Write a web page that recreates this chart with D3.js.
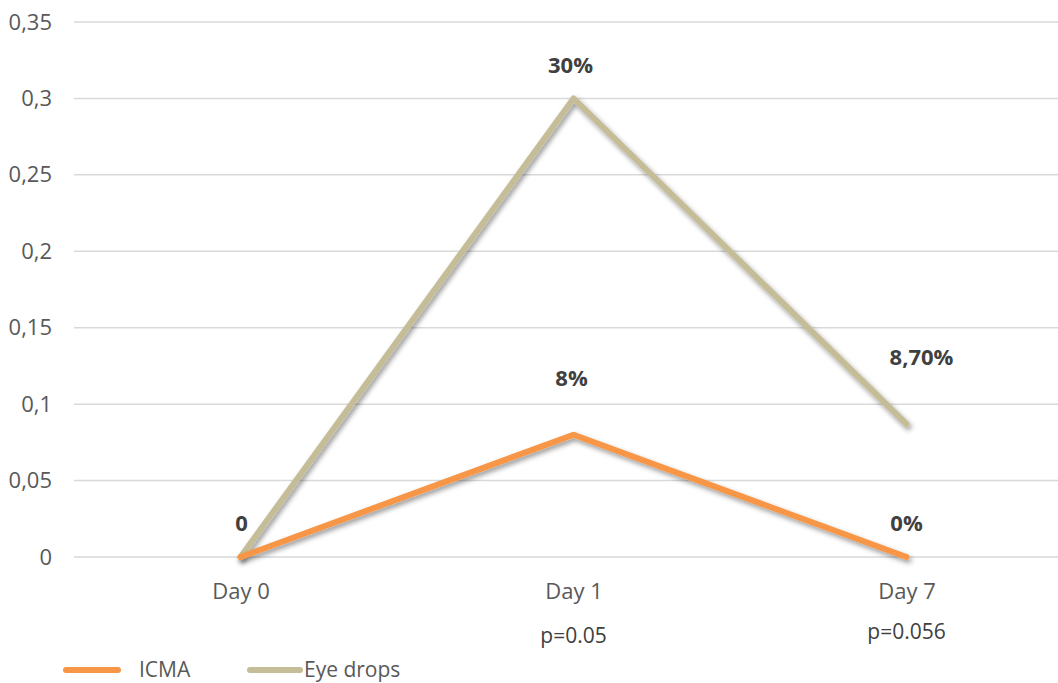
<!DOCTYPE html>
<html>
<head>
<meta charset="utf-8">
<script src="https://cdn.jsdelivr.net/npm/d3@7"></script>
<style>
  html, body { margin: 0; padding: 0; background: #fff; }
  svg { display: block; font-family: "Open Sans", "Noto Sans", sans-serif; }
</style>
</head>
<body>
<svg id="chart" width="1058" height="683"></svg>
<script>
// Categories and their secondary (p-value) captions
const days = ["Day 0", "Day 1", "Day 7"];
const pValues = ["", "p=0.05", "p=0.056"];

// Series values (proportion of patients)
const icmaValues = [0, 0.08, 0];
const eyeDropValues = [0, 0.30, 0.087];

// Point labels for each series ("" = no label)
const icmaLabels = ["0", "8%", "0%"];
const eyeDropLabels = ["", "30%", "8,70%"];

// Y axis ticks
const yTicks = [0, 0.05, 0.1, 0.15, 0.2, 0.25, 0.3, 0.35];

const seriesNames = ["ICMA", "Eye drops"];

const W = 1058, H = 683;
const plot = { left: 74, right: 1073, top: 22, bottom: 557 };
const FONT = "'Open Sans', 'Noto Sans', sans-serif";

const svg = d3.select("#chart");

const defs = svg.append("defs");
const f = defs.append("filter").attr("id", "shadow")
  .attr("x", "-10%").attr("y", "-10%").attr("width", "130%").attr("height", "130%");
f.append("feDropShadow").attr("dx", 2).attr("dy", 3).attr("stdDeviation", 2.5)
  .attr("flood-color", "#000").attr("flood-opacity", 0.4);

const x = d3.scalePoint().domain(days).range([plot.left, plot.right]).padding(0.5);
const y = d3.scaleLinear().domain([0, 0.35]).range([plot.bottom, plot.top]);

const fmt = d3.formatLocale({ decimal: ",", thousands: ".", grouping: [3], currency: ["", ""] }).format("~g");

// Horizontal gridlines
svg.append("g").selectAll("line").data(yTicks).join("line")
  .attr("x1", plot.left).attr("x2", plot.right)
  .attr("y1", d => y(d)).attr("y2", d => y(d))
  .attr("stroke", "#d9d9d9").attr("stroke-width", 1.5);

// Y axis labels
const yAxis = svg.append("g").attr("transform", `translate(${plot.left},0)`)
  .call(d3.axisLeft(y).tickValues(yTicks).tickFormat(fmt).tickSize(0).tickPadding(22));
yAxis.select(".domain").remove();
yAxis.selectAll("text").attr("font-size", 22).attr("fill", "#595959")
  .attr("font-family", FONT);

// X axis labels
const xAxis = svg.append("g").attr("transform", `translate(0,${plot.bottom})`)
  .call(d3.axisBottom(x).tickSize(0).tickPadding(26));
xAxis.select(".domain").remove();
xAxis.selectAll("text").attr("font-size", 22).attr("fill", "#595959")
  .attr("font-family", FONT);

// p-value captions under the day labels (baseline offsets below the axis)
const pBaseline = [86, 86, 82];
svg.append("g").selectAll("text").data(days).join("text")
  .attr("x", d => x(d)).attr("y", (d, i) => plot.bottom + pBaseline[i])
  .attr("text-anchor", "middle").attr("font-size", 21).attr("fill", "#404040")
  .attr("font-family", FONT)
  .text((d, i) => pValues[i]);

const line = d3.line().x((d, i) => x(days[i])).y(d => y(d));

const series = [
  { name: seriesNames[1], values: eyeDropValues, labels: eyeDropLabels, color: "#c4bd97" },
  { name: seriesNames[0], values: icmaValues, labels: icmaLabels, color: "#f79646" }
];

svg.append("g").selectAll("path").data(series).join("path")
  .attr("d", s => line(s.values))
  .attr("fill", "none").attr("stroke", s => s.color)
  .attr("stroke-width", 6).attr("stroke-linecap", "round").attr("stroke-linejoin", "round")
  .attr("filter", "url(#shadow)");

// Label placement nudges (dx, dy in px relative to the point, to the baseline)
const labelNudge = {
  "Eye drops": [[0, -26], [-3, -25], [15, -59]],
  "ICMA": [[1, -26], [-2, -49], [0, -26]]
};

series.forEach(s => {
  svg.append("g").selectAll("text").data(s.values).join("text")
    .attr("x", (d, i) => x(days[i]) + labelNudge[s.name][i][0])
    .attr("y", (d, i) => y(d) + labelNudge[s.name][i][1])
    .attr("text-anchor", "middle").attr("font-size", 22).attr("font-weight", "bold")
    .attr("fill", "#404040").attr("font-family", FONT)
    .text((d, i) => s.labels[i]);
});

// Legend
const legend = svg.append("g").attr("transform", `translate(0,670)`);
const legendItems = [
  { name: seriesNames[0], color: "#f79646", x0: 66, x1: 118, tx: 139 },
  { name: seriesNames[1], color: "#c4bd97", x0: 250, x1: 300, tx: 304 }
];
legendItems.forEach(it => {
  legend.append("line").attr("x1", it.x0).attr("x2", it.x1).attr("y1", 0).attr("y2", 0)
    .attr("stroke", it.color).attr("stroke-width", 6).attr("stroke-linecap", "round");
  legend.append("text").attr("x", it.tx).attr("y", 7).attr("font-size", 21)
    .attr("fill", "#595959").attr("font-family", FONT).text(it.name);
});
</script>
</body>
</html>
